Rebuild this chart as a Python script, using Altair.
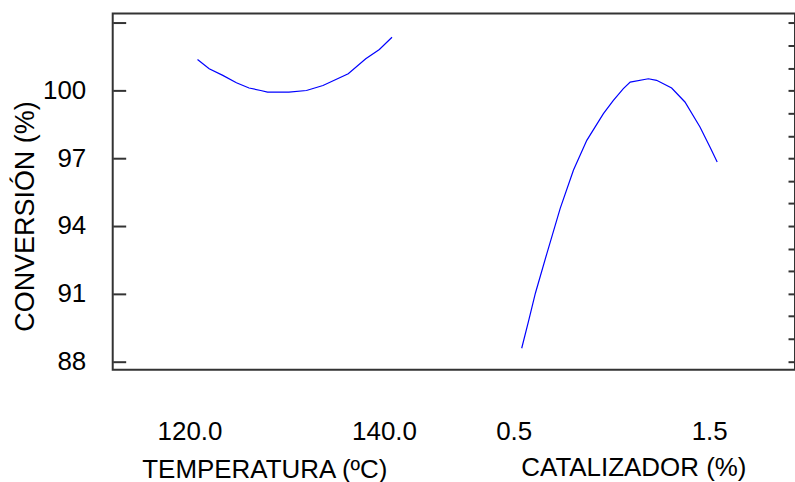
import altair as alt
import pandas as pd

# Main-effects curves for conversion
temp_c = [120.0, 121.2, 122.6, 124.0, 125.3, 126.5, 127.2, 129.4, 131.2, 132.9, 135.5, 137.3, 138.7, 140.0]
temp_conv = [101.38, 100.97, 100.68, 100.35, 100.12, 100.01, 99.94, 99.94, 100.01, 100.23, 100.75, 101.42, 101.83, 102.37]

cat_pct = [0.50, 0.536, 0.570, 0.629, 0.697, 0.765, 0.833, 0.918, 0.969, 1.020, 1.055,
           1.148, 1.19, 1.267, 1.335, 1.412, 1.463, 1.50]
cat_conv = [88.58, 89.82, 91.02, 92.79, 94.78, 96.48, 97.80, 98.98, 99.57, 100.09, 100.38,
            100.53, 100.46, 100.12, 99.50, 98.39, 97.50, 96.84]

y_major = [88, 91, 94, 97, 100, 103]
y_minor = [89, 90, 92, 93, 95, 96, 98, 99, 101, 102]
temp_ticks = [120, 140]
cat_ticks = [0.5, 1.5]

FONT = "Liberation Sans"
INK = "#333333"
BLUE = "#0000ff"

temp_df = pd.DataFrame({"temp": temp_c, "conv": temp_conv})
cat_df = pd.DataFrame({"cat": cat_pct, "conv": cat_conv})

y_scale = alt.Scale(domain=[87.63, 103.42], nice=False, zero=False)
temp_scale = alt.Scale(domain=[111.28, 181.44], nice=False, zero=False)
cat_scale = alt.Scale(domain=[-1.592, 1.898], nice=False, zero=False)

x_axis_common = dict(
    orient="bottom", format=".1f", ticks=False, tickSize=0, tickOffset=-8,
    domain=False, grid=False,
    labelPadding=70, labelBaseline="alphabetic",
    labelFlush=False, labelOverlap=False,
    titleBaseline="alphabetic", titleAlign="center",
)

temp_line = alt.Chart(temp_df).mark_line(color=BLUE, strokeWidth=1.2).encode(
    x=alt.X("temp:Q", scale=temp_scale,
            axis=alt.Axis(values=temp_ticks, title="TEMPERATURA (ºC)",
                          titleX=152, titleY=108, **x_axis_common)),
    y=alt.Y("conv:Q", scale=y_scale,
            axis=alt.Axis(values=y_major,
                          labelExpr="datum.value > 101 ? '' : datum.label",
                          offset=-13, tickSize=13, labelPadding=27,
                          labelBaseline="middle",
                          title="CONVERSIÓN (%)", titleAngle=-90,
                          titleFontSize=27,
                          titleX=-92, titleY=203, titleAlign="center",
                          titleBaseline="alphabetic")),
)

minor_ticks = alt.Chart(temp_df).mark_line(opacity=0).encode(
    x=alt.X("temp:Q", scale=temp_scale, axis=None),
    y=alt.Y("conv:Q", scale=y_scale,
            axis=alt.Axis(values=y_minor, offset=-7, tickSize=7,
                          labels=False, title=None)),
)

cat_line = alt.Chart(cat_df).mark_line(color=BLUE, strokeWidth=1.2).encode(
    x=alt.X("cat:Q", scale=cat_scale,
            axis=alt.Axis(values=cat_ticks, title="CATALIZADOR (%)",
                          titleX=522, titleY=106, **x_axis_common)),
    y=alt.Y("conv:Q", scale=y_scale,
            axis=alt.Axis(values=y_major, orient="right", offset=-7, tickSize=7,
                          labels=False, title=None)),
)

chart = (
    alt.layer(temp_line, minor_ticks, cat_line)
    .resolve_scale(x="independent")
    .resolve_axis(x="independent", y="independent")
    .properties(
        width=684, height=357,
        padding={"left": 113, "top": 13, "right": 0, "bottom": 112},
        autosize="none",
        background="white",
    )
    .configure_view(stroke=INK, strokeWidth=2)
    .configure_axis(
        labelFont=FONT, titleFont=FONT, labelColor="black", titleColor="black",
        labelFontSize=26, titleFontSize=26, titleFontWeight="normal",
        grid=False, domain=False, tickColor=INK, tickWidth=2,
    )
)

chart.save("out.html", embed_options={"renderer": "svg", "actions": False})
